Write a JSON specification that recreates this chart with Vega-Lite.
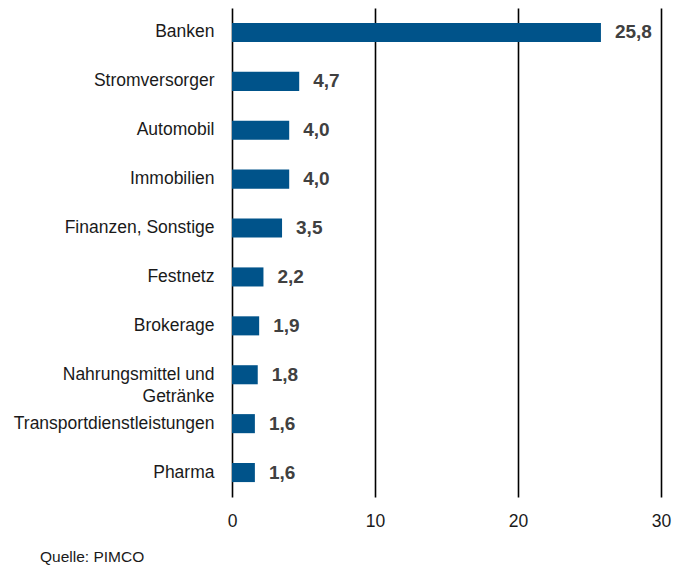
{
  "$schema": "https://vega.github.io/schema/vega-lite/v6.json",
  "autosize": "none",
  "width": 429,
  "height": 489,
  "padding": {"left": 232, "top": 8, "right": 27, "bottom": 73},
  "background": "white",
  "config": {
    "font": "Liberation Sans, Arial, sans-serif",
    "view": {"stroke": null},
    "locale": {"number": {"decimal": ",", "thousands": ".", "grouping": [3], "currency": ["", " €"]}}
  },
  "title": {
    "text": "Quelle: PIMCO",
    "orient": "bottom",
    "anchor": "start",
    "frame": "group",
    "dx": -192,
    "offset": 20,
    "fontSize": 15.5,
    "fontWeight": "normal",
    "color": "#1a1a1a"
  },
  "data": {
    "values": [
      {"sector": "Banken", "value": 25.8},
      {"sector": "Stromversorger", "value": 4.7},
      {"sector": "Automobil", "value": 4.0},
      {"sector": "Immobilien", "value": 4.0},
      {"sector": "Finanzen, Sonstige", "value": 3.5},
      {"sector": "Festnetz", "value": 2.2},
      {"sector": "Brokerage", "value": 1.9},
      {"sector": "Nahrungsmittel und Getränke", "value": 1.8},
      {"sector": "Transportdienstleistungen", "value": 1.6},
      {"sector": "Pharma", "value": 1.6}
    ]
  },
  "encoding": {
    "y": {
      "field": "sector",
      "type": "nominal",
      "sort": null,
      "scale": {"paddingInner": 0.61, "paddingOuter": 0.305},
      "axis": {
        "title": null,
        "domain": false,
        "ticks": false,
        "labelPadding": 18,
        "labelFontSize": 17.5,
        "labelColor": "#1a1a1a",
        "labelLimit": 300,
        "labelLineHeight": 22,
        "labelExpr": "datum.label == 'Nahrungsmittel und Getränke' ? ['Nahrungsmittel und', 'Getränke'] : datum.label"
      }
    },
    "x": {
      "field": "value",
      "type": "quantitative",
      "scale": {"domain": [0, 30], "nice": false},
      "axis": {
        "title": null,
        "values": [0, 10, 20, 30],
        "domain": false,
        "ticks": false,
        "grid": true,
        "gridColor": "#000000",
        "gridWidth": 1.6,
        "gridOpacity": 1,
        "labelFlush": false,
        "labelFontSize": 17.5,
        "labelColor": "#1a1a1a",
        "labelPadding": 15
      }
    }
  },
  "layer": [
    {"mark": {"type": "bar", "color": "#00538a"}},
    {
      "mark": {
        "type": "text",
        "align": "left",
        "baseline": "middle",
        "dx": 14,
        "fontSize": 19,
        "fontWeight": "bold",
        "color": "#404040"
      },
      "encoding": {
        "text": {"field": "value", "type": "quantitative", "format": ".1f"}
      }
    }
  ]
}
